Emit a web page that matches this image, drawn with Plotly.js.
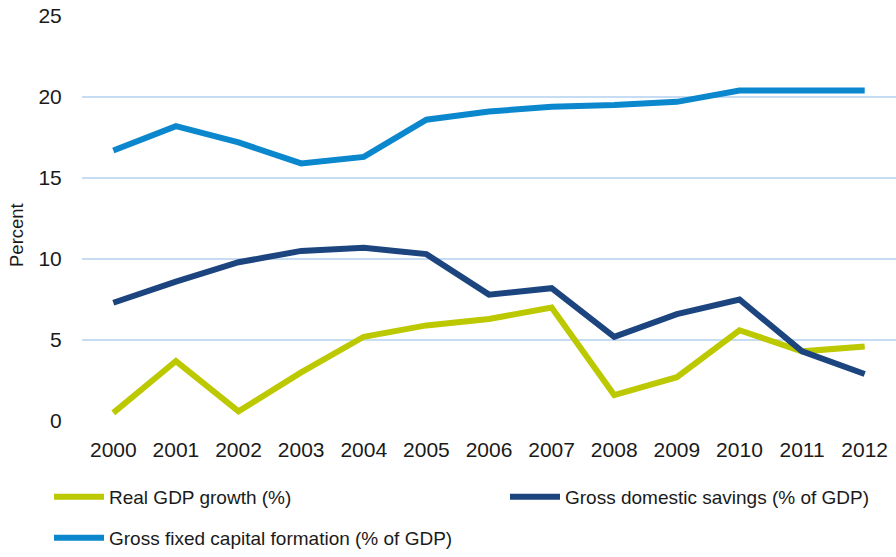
<!DOCTYPE html>
<html>
<head>
<meta charset="utf-8">
<script src="https://cdn.plot.ly/plotly-3.0.1.min.js"></script>
<style>
  html, body { margin: 0; padding: 0; background: #ffffff; }
  #chart { width: 896px; height: 557px; }
</style>
</head>
<body>
<div id="chart"></div>
<script>
// Years on the horizontal axis
const years = [2000, 2001, 2002, 2003, 2004, 2005, 2006, 2007, 2008, 2009, 2010, 2011, 2012];

// Series values, in percent
const realGdpGrowth = [0.5, 3.7, 0.6, 3.0, 5.2, 5.9, 6.3, 7.0, 1.6, 2.7, 5.6, 4.3, 4.6];
const grossDomesticSavings = [7.3, 8.6, 9.8, 10.5, 10.7, 10.3, 7.8, 8.2, 5.2, 6.6, 7.5, 4.3, 2.9];
const grossFixedCapital = [16.7, 18.2, 17.2, 15.9, 16.3, 18.6, 19.1, 19.4, 19.5, 19.7, 20.4, 20.4, 20.4];

const yTicks = [0, 5, 10, 15, 20, 25];
const yTitle = 'Percent';

const FONT = '"Liberation Sans", Arial, sans-serif';
const TEXT = '#1a1a1a';

const traces = [
  {
    x: years, y: realGdpGrowth, type: 'scatter', mode: 'lines',
    name: 'Real GDP growth (%)',
    line: { color: '#bcc800', width: 6 },
    legend: 'legend'
  },
  {
    x: years, y: grossDomesticSavings, type: 'scatter', mode: 'lines',
    name: 'Gross domestic savings (% of GDP)',
    line: { color: '#1c457f', width: 6 },
    legend: 'legend2'
  },
  {
    x: years, y: grossFixedCapital, type: 'scatter', mode: 'lines',
    name: 'Gross fixed capital formation (% of GDP)',
    line: { color: '#0a87cd', width: 6 },
    legend: 'legend3'
  }
];

// Plot area geometry in pixels, used to place the legend boxes and axis label
const M = { l: 82, r: 0, t: 16, b: 136 };
const W = 896, H = 557;
const plotW = W - M.l - M.r;
const plotH = H - M.t - M.b;
const px2x = px => (px - M.l) / plotW;
const px2y = py => (H - M.b - py) / plotH;

// One legend box per entry, laid out in two columns under the plot
function legendBox(pxLeft, pyCenter) {
  return {
    x: px2x(pxLeft), xanchor: 'left',
    y: px2y(pyCenter), yanchor: 'middle',
    itemwidth: 50,
    font: { family: FONT, size: 19, color: TEXT },
    bgcolor: 'rgba(0,0,0,0)',
    borderwidth: 0
  };
}

const layout = {
  width: W,
  height: H,
  margin: M,
  paper_bgcolor: '#ffffff',
  plot_bgcolor: '#ffffff',
  font: { family: FONT, color: TEXT, size: 18 },
  showlegend: true,
  xaxis: {
    range: [1999.5, 2012.5],
    tickmode: 'array',
    tickvals: years,
    ticktext: years.map(String),
    showgrid: false,
    zeroline: false,
    showline: false,
    ticks: 'outside',
    ticklen: 10,
    tickcolor: 'rgba(0,0,0,0)',
    tickfont: { family: FONT, size: 21, color: TEXT },
    fixedrange: true
  },
  yaxis: {
    range: [0, 25],
    tickmode: 'array',
    tickvals: yTicks,
    ticktext: yTicks.map(String),
    showgrid: true,
    gridcolor: '#c6dcf2',
    gridwidth: 2,
    zeroline: false,
    showline: false,
    ticks: 'outside',
    ticklen: 15,
    tickcolor: 'rgba(0,0,0,0)',
    tickfont: { family: FONT, size: 21, color: TEXT },
    fixedrange: true
  },
  // Vertical axis label, set a little below the middle of the axis
  annotations: [
    {
      text: yTitle,
      textangle: -90,
      xref: 'paper', yref: 'paper',
      x: px2x(16), xanchor: 'center',
      y: px2y(235), yanchor: 'middle',
      showarrow: false,
      font: { family: FONT, size: 18.5, color: TEXT }
    }
  ],
  legend: legendBox(49, 497),
  legend2: legendBox(505, 497),
  legend3: legendBox(49, 538)
};

Plotly.newPlot('chart', traces, layout, { displayModeBar: false, staticPlot: true });
</script>
</body>
</html>
